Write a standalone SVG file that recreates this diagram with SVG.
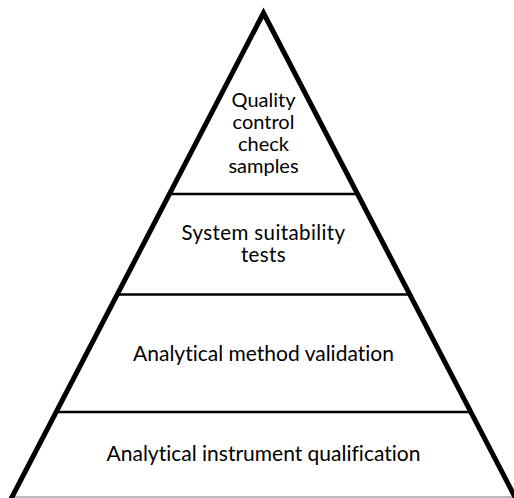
<svg xmlns="http://www.w3.org/2000/svg" width="514" height="498" viewBox="0 0 514 498">
<style>
.t{font-family:Lato,"Open Sans","Liberation Sans",sans-serif;font-size:21px;fill:#000;text-anchor:middle;font-variant-ligatures:none}
.q{font-size:20px}
.s{font-size:20.5px;letter-spacing:0.4px}
.div{stroke:#000;stroke-width:2.5;fill:none}
</style>
<rect width="514" height="498" fill="#fff"/>
<g id="connectors">
<line class="div" x1="170" y1="194" x2="357" y2="194"/>
<line class="div" x1="118" y1="294.5" x2="409" y2="294.5"/>
<line class="div" x1="56" y1="412" x2="471" y2="412"/>
<line x1="12" y1="497" x2="513" y2="497" stroke="#777" stroke-width="1.2"/>
</g>
<g id="pyramid">
<polyline points="11,499 263.5,13 516,499" fill="none" stroke="#000" stroke-width="5" stroke-linejoin="miter"/>
</g>
<g id="node-qc">
<text class="t q" x="263.5" y="107">Quality</text>
<text class="t q" x="263.5" y="129">control</text>
<text class="t q" x="263.5" y="151">check</text>
<text class="t q" x="263.5" y="173">samples</text>
</g>
<g id="node-sst">
<text class="t s" x="263.5" y="240">System suitability</text>
<text class="t s" x="263.5" y="262">tests</text>
</g>
<g id="node-amv">
<text class="t" x="263.5" y="361">Analytical method validation</text>
</g>
<g id="node-aiq">
<text class="t" x="263.5" y="461">Analytical instrument qualification</text>
</g>
</svg>
